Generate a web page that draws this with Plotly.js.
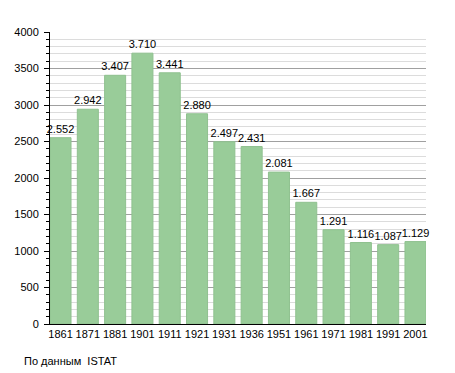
<!DOCTYPE html>
<html>
<head>
<meta charset="utf-8">
<script src="https://cdn.plot.ly/plotly-3.0.1.min.js"></script>
<style>html,body{margin:0;padding:0;background:#fff;}#chart{width:455px;height:373px;}</style>
</head>
<body>
<div id="chart"></div>
<script>
const years = ["1861","1871","1881","1901","1911","1921","1931","1936","1951","1961","1971","1981","1991","2001"];
const population = [2552, 2942, 3407, 3710, 3441, 2880, 2497, 2431, 2081, 1667, 1291, 1116, 1087, 1129];
const sourceNote = "По данным  ISTAT";

const xs = years.map((_, i) => i);
const font = {family: "Liberation Sans, Arial, sans-serif", size: 11, color: "#000"};

Plotly.newPlot("chart", [{
  type: "bar",
  x: xs,
  y: population,
  width: 0.77,
  marker: {color: "#99cc99", line: {color: "#8fc18f", width: 1}},
  texttemplate: "%{y:,}",
  textposition: "outside",
  constraintext: "none",
  cliponaxis: false,
  textfont: font,
  hoverinfo: "none"
}], {
  width: 455,
  height: 373,
  margin: {l: 50, r: 29, t: 32, b: 49},
  separators: ",.",
  paper_bgcolor: "#fff",
  plot_bgcolor: "#fff",
  showlegend: false,
  font: font,
  xaxis: {
    range: [-0.385, 13.385],
    tickvals: xs,
    ticktext: years,
    showgrid: false,
    zeroline: false,
    showline: true,
    linecolor: "#000",
    linewidth: 1,
    ticks: "",
    tickfont: font,
    fixedrange: true
  },
  yaxis: {
    range: [0, 4000],
    dtick: 500,
    tick0: 0,
    showgrid: true,
    gridcolor: "#a0a0a0",
    gridwidth: 1,
    zeroline: false,
    showline: true,
    linecolor: "#000",
    linewidth: 1,
    ticks: "outside",
    ticklen: 5,
    tickcolor: "#000",
    ticklabelstandoff: 3,
    tickfont: font,
    minor: {dtick: 100, showgrid: true, gridcolor: "#dcdcdc", gridwidth: 1, ticks: "outside", ticklen: 3, tickcolor: "#000"},
    fixedrange: true
  },
  annotations: [{
    text: sourceNote,
    xref: "paper", yref: "paper",
    x: -0.0745, y: -0.127,
    xanchor: "left", yanchor: "middle",
    showarrow: false,
    font: font
  }]
}, {staticPlot: true, displayModeBar: false});
</script>
</body>
</html>
